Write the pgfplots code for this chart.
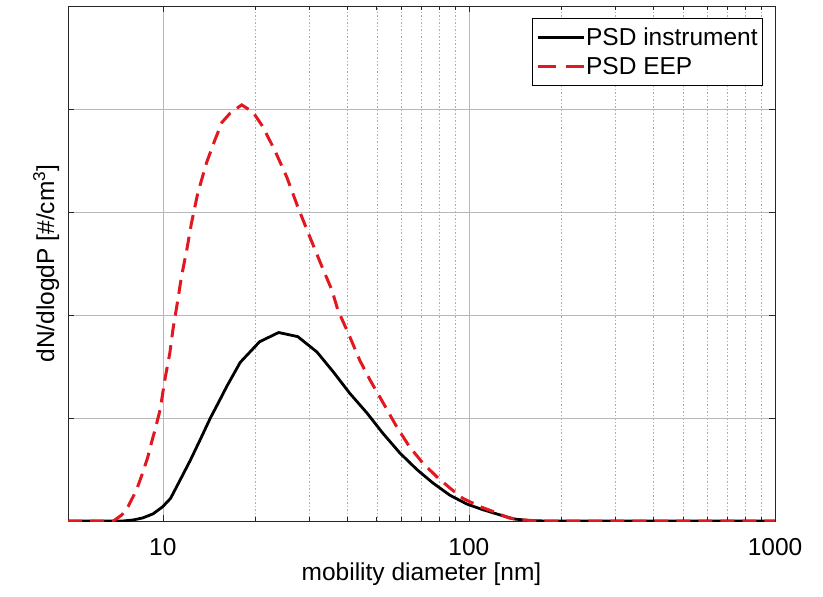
\documentclass[border=0pt]{standalone}
\usepackage{fontspec}
\setmainfont{Liberation Sans}
\usepackage{pgfplots}
\pgfplotsset{compat=1.18}
\definecolor{mred}{RGB}{226,24,32}
\newcommand{\lf}{\fontsize{24.5bp}{29bp}\selectfont}
\begin{document}
\begin{tikzpicture}
\useasboundingbox (-68bp,-76bp) rectangle (755bp,521bp);
\begin{axis}[
  at={(0,0)}, anchor=south west,
  scale only axis, width=707bp, height=515bp,
  xmode=log, xmin=4.9, xmax=1000, ymin=0, ymax=5,
  xtick={10,100,1000}, xticklabels={10,100,1000},
  ytick={0,1,2,3,4,5}, yticklabels={},
  tick pos=both, tick align=inside,
  major tick length=6bp, minor tick length=4bp,
  tick style={black!85, line width=0.6bp},
  axis line style={black!85, line width=0.7bp},
  xmajorgrids=true, xminorgrids=true, ymajorgrids=true,
  major grid style={draw=black!28, line width=0.6bp},
  minor grid style={draw=black!32, line width=0.5bp, dash pattern=on 1.5bp off 2bp},
  xticklabel style={font=\lf, inner sep=0pt, anchor=north, yshift=-17bp},
  xlabel={mobility diameter [nm]},
  ylabel={dN/dlogdP [\#/cm\textsuperscript{3}]},
  xlabel style={at={(axis description cs:0.5,0)}, anchor=north, inner sep=0pt, yshift=-42bp, font=\lf},
  ylabel style={at={(axis description cs:-0.012,0.5)}, anchor=south, inner sep=0pt, font=\lf},
  legend style={at={(axis description cs:0.983,0.9767)}, anchor=north east,
    draw=black, line width=0.6bp, font=\lf, inner sep=4bp, row sep=0bp,
    nodes={inner xsep=1bp, inner ysep=5.5bp, text height=17.5bp, text depth=1bp}},
  legend cell align=left,
]
\addplot[black, line width=2.8bp,
  legend image code/.code={\draw[black, line width=3bp] (5bp,0bp) -- (51bp,0bp);}] coordinates {
(4.9,0) (7.4,0) (8,0.01) (8.6,0.03) (9.3,0.07) (10,0.14) (10.6,0.22) (11.4,0.40) (12.3,0.59)
(13.2,0.78) (14.3,1.0) (15.2,1.15) (16.2,1.31) (17.9,1.54) (20.7,1.74) (23.9,1.83) (27.6,1.79)
(31.9,1.64) (36,1.45) (40.8,1.24) (46.4,1.05) (52.4,0.85) (59.5,0.66) (67.6,0.50) (76.2,0.37)
(86.7,0.25) (98.4,0.165) (111,0.11) (126,0.06) (140,0.02) (160,0.003) (180,0) (1000,0)
};
\addlegendentry{PSD instrument}
\addplot[mred, line width=3bp, dash pattern=on 14bp off 8bp,
  legend image code/.code={\draw[mred, line width=3bp, dash pattern=on 18bp off 10bp] (5bp,0bp) -- (51bp,0bp);}] coordinates {
(4.9,0) (6.9,0) (7.35,0.06) (7.7,0.14) (8.2,0.30) (8.6,0.47) (8.93,0.62) (9.2,0.77)
(9.42,0.88) (9.8,1.08) (10.15,1.37) (10.54,1.63) (10.78,1.85) (11.2,2.15) (11.5,2.37)
(11.97,2.63) (12.4,2.89) (13.0,3.18) (13.9,3.48) (14.8,3.70) (15.6,3.87) (16.6,3.96)
(18.1,4.04) (19.7,3.97) (21.2,3.83) (23.2,3.60) (25.4,3.34) (27.6,3.05) (30.2,2.76)
(33.1,2.47) (35.7,2.24) (37.3,2.05) (40.8,1.79) (44,1.56) (47.5,1.37) (52.4,1.15)
(58.2,0.91) (64,0.72) (70.8,0.56) (78.5,0.43) (86.7,0.32) (95.5,0.22) (108.6,0.14)
(123,0.08) (135,0.03) (150,0.01) (170,0) (1000,0)
};
\addlegendentry{PSD EEP}
\end{axis}
\end{tikzpicture}
\end{document}
